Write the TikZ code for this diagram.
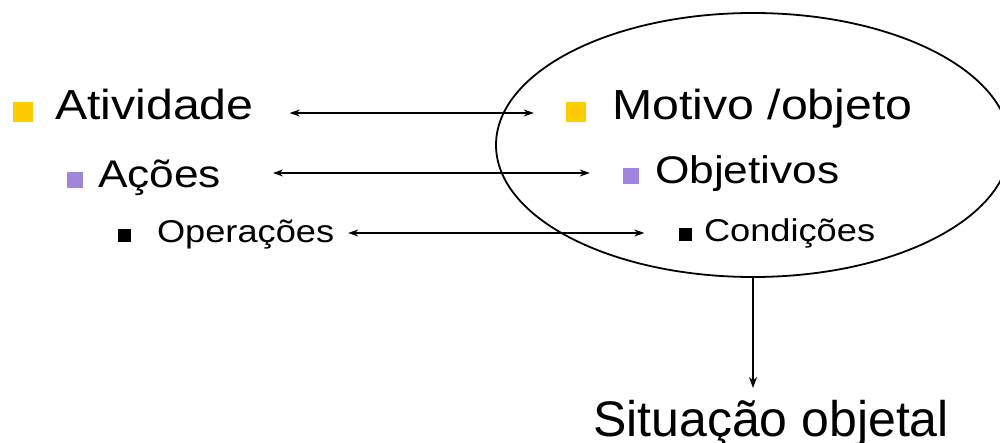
\documentclass[tikz,border=0pt]{standalone}
\usepackage{fontspec}
\setmainfont{Liberation Sans}[FakeStretch=1.15]
\newfontfamily\plainsans{Liberation Sans}
\usetikzlibrary{shapes.geometric,arrows.meta}
\definecolor{bulyellow}{RGB}{255,204,0}
\definecolor{bulpurple}{RGB}{160,132,222}
\begin{document}
\begin{tikzpicture}[x=1pt,y=-1pt,
  txt/.style={inner sep=0pt,outer sep=0pt,anchor=base west,text depth=0pt},
  lvA/.style={txt,font=\fontsize{42}{42}\selectfont,text height=14pt},
  lvB/.style={txt,font=\fontsize{38.5}{38.5}\selectfont,text height=30pt},
  lvC/.style={txt,font=\fontsize{31.5}{31.5}\selectfont,text height=20pt},
  bulA/.style={fill=bulyellow,inner sep=0pt,minimum size=20pt},
  bulB/.style={fill=bulpurple,inner sep=0pt,minimum size=16pt},
  bulC/.style={fill=black,inner sep=0pt,minimum size=13pt},
  biarrow/.style={{Stealth[length=10pt,width=7pt]}-{Stealth[length=10pt,width=7pt]},line width=1.1pt},
  oval/.style={ellipse,draw,line width=1.8pt,minimum width=514pt,minimum height=264pt,inner sep=0pt}
]
\useasboundingbox (0,0) rectangle (1000,443);

% the oval around the right-hand column
\node[oval] (E) at (753,145) {};

% left column
\node[bulA] (bA) at (23,112) {};
\node[lvA] (atv) at (55,120) {Atividade};
\node[bulB] (bB) at (75,180) {};
\node[lvB] (aco) at (98,188) {Ações};
\node[bulC] (bC) at (124,236) {};
\node[lvC] (ope) at (157,243) {Operações};

% right column
\node[bulA] (mB) at (576,112) {};
\node[lvA] (mot) at (612,120) {Motivo /objeto};
\node[bulB] (oB) at (631,176) {};
\node[lvB] (obj) at (655,184) {Objetivos};
\node[bulC] (cB) at (685,235) {};
\node[lvC] (con) at (704,242) {Condições};

% links between the two columns
\draw[biarrow,shorten <=36pt,shorten >=32pt] (atv.east) -- (atv.east -| mB.west);
\draw[biarrow,shorten <=52pt,shorten >=33pt] (aco.east) -- (aco.east -| oB.west);
\draw[biarrow,shorten <=14pt,shorten >=34pt] (ope.east) -- (ope.east -| cB.west);

% result below the oval
\node[txt,font=\plainsans\fontsize{50}{50}\selectfont,text height=36pt,anchor=base] (sit) at (771,436) {Situação objetal};
\draw[-{Stealth[length=11pt,width=8pt]},line width=1.3pt,shorten >=12pt] (E.south) -- (E.south |- sit.north);
\end{tikzpicture}
\end{document}
